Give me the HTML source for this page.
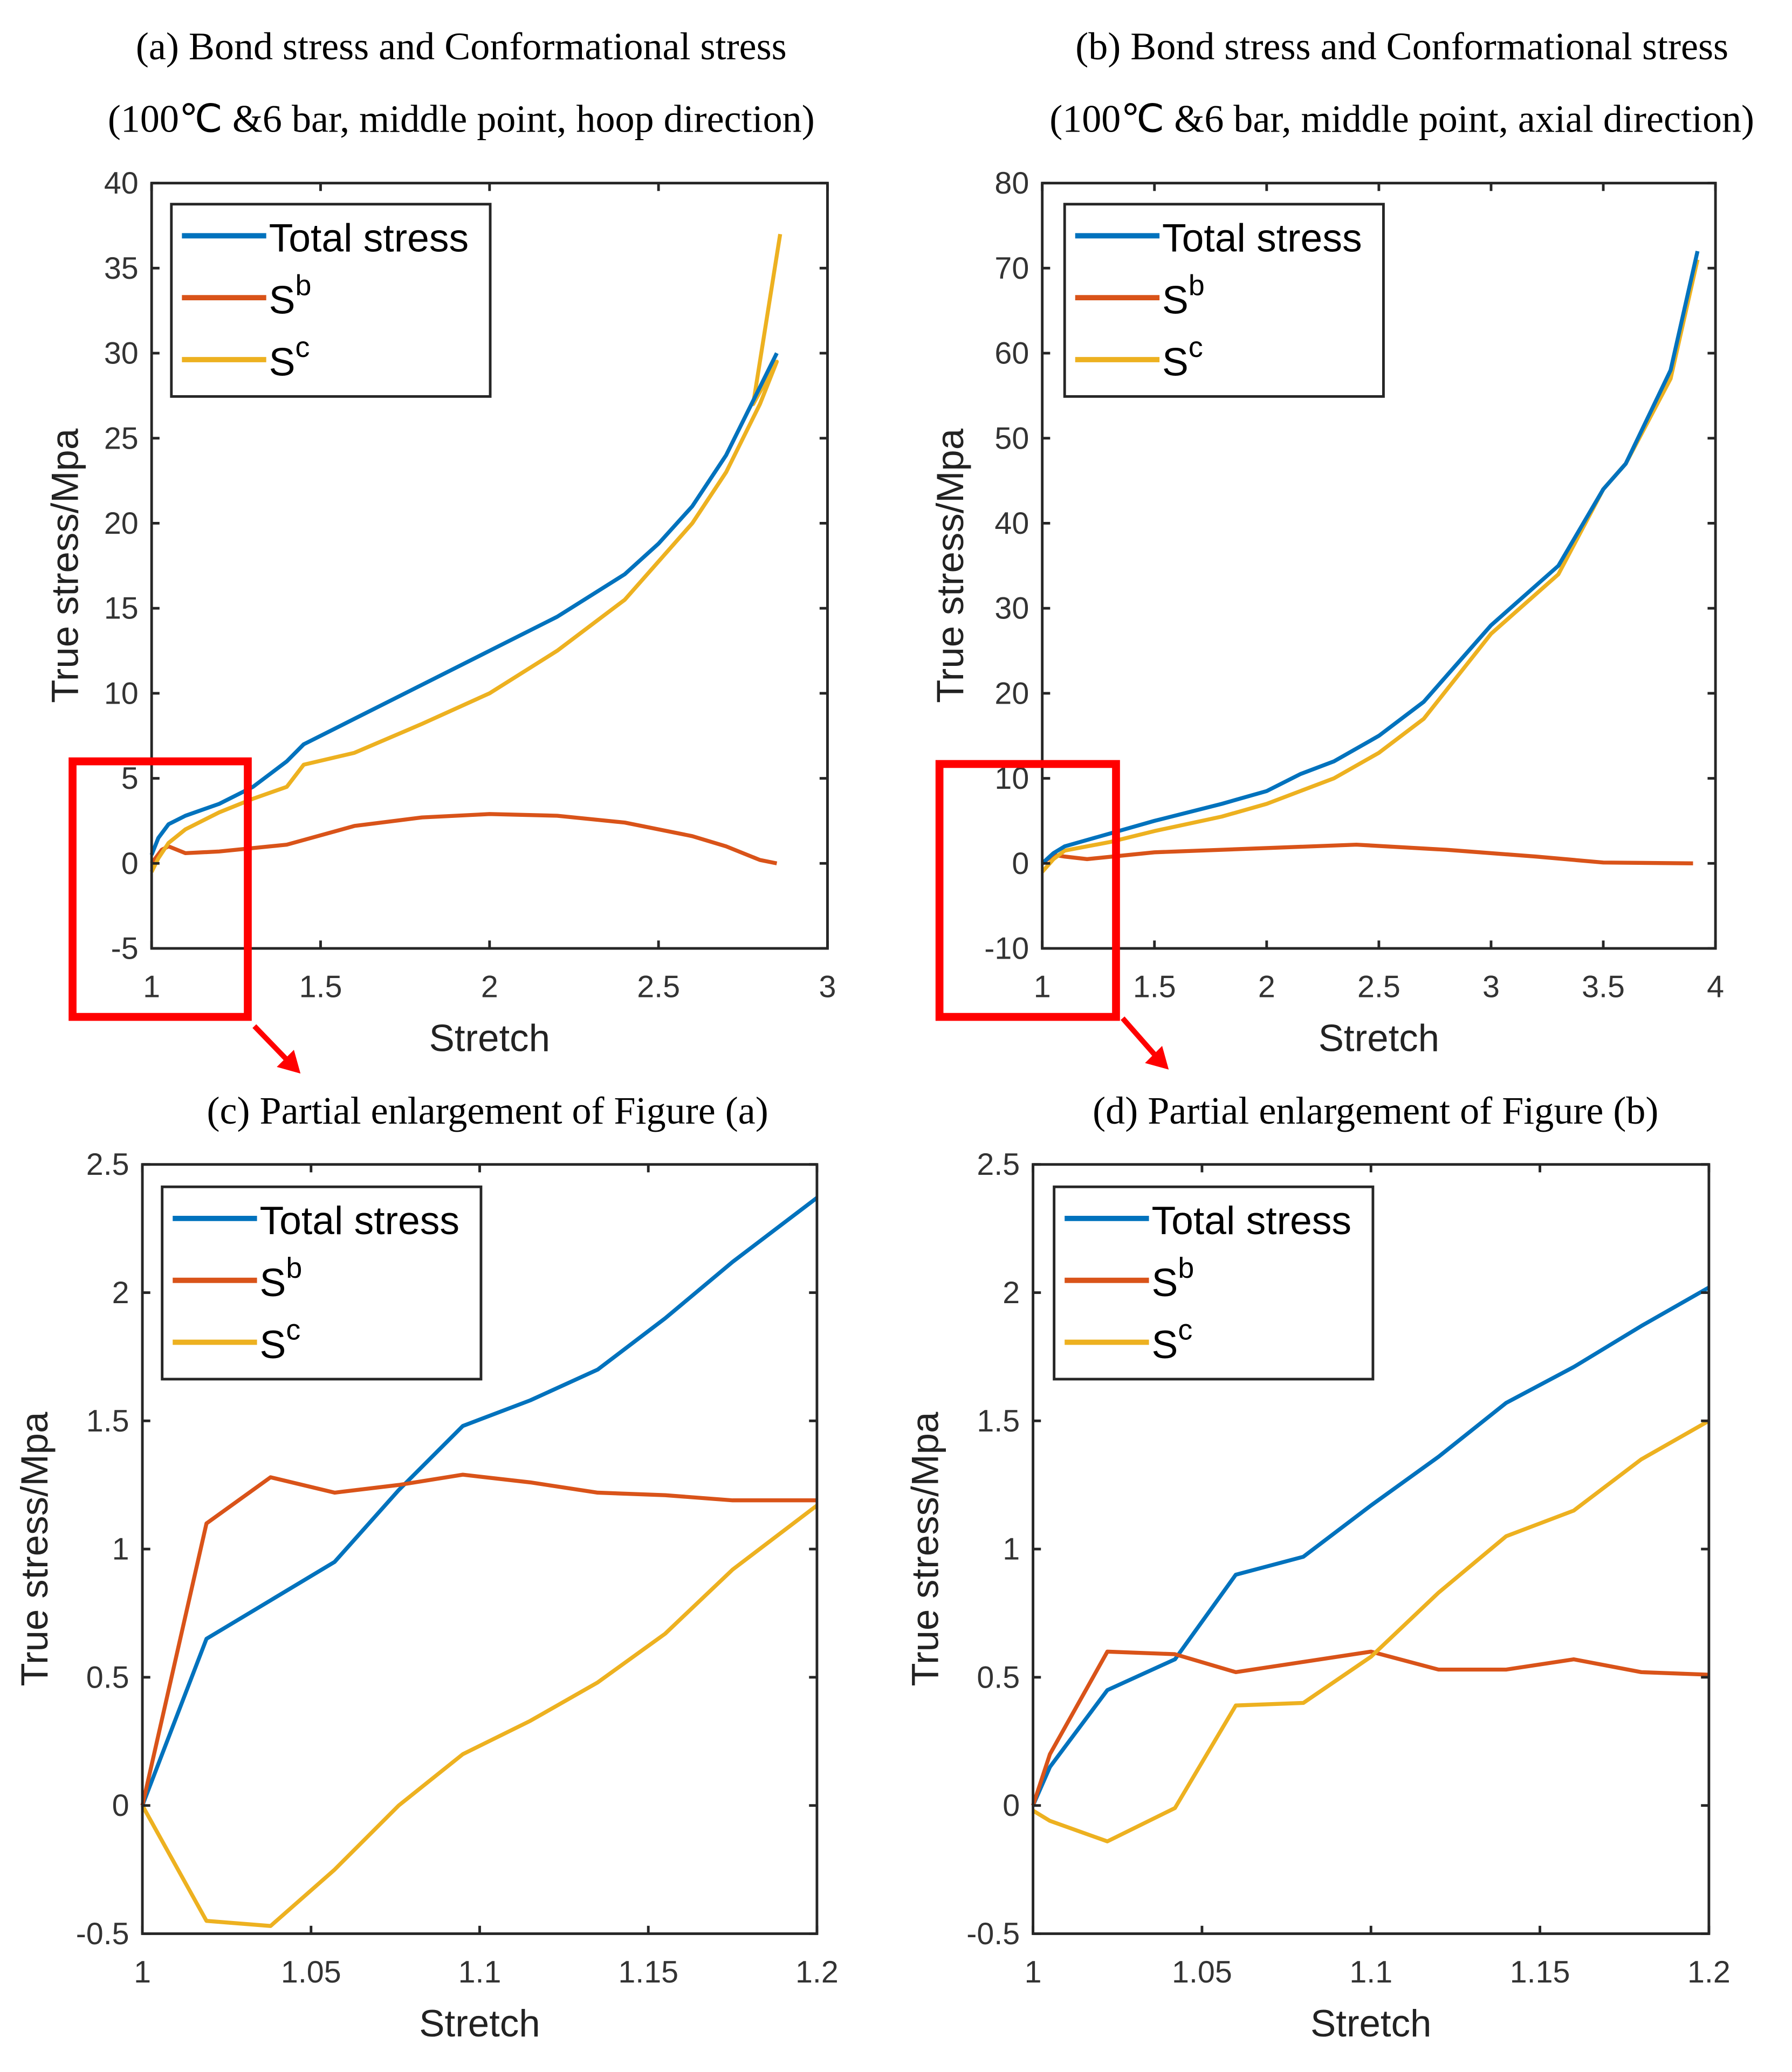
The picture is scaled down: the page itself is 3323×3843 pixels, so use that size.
<!DOCTYPE html>
<html><head><meta charset="utf-8"><style>
html,body{margin:0;padding:0;background:#fff}
svg{display:block}
.t{font-family:"Liberation Serif",serif;font-size:29.5px;fill:#000}
.tk{font-family:"Liberation Sans",sans-serif;font-size:23.5px;fill:#333}
.al{font-family:"Liberation Sans",sans-serif;font-size:29px;fill:#222}
.lg{font-family:"Liberation Sans",sans-serif;font-size:30px;fill:#000}
</style></head><body>
<svg id="fig" width="3323" height="3843" viewBox="0 0 1360 1573" xmlns="http://www.w3.org/2000/svg">
<g id="root"></g>
</svg>
<script>
// Panel (a)
const aTotalX=[1,1.02,1.05,1.1,1.2,1.3,1.4,1.45,1.6,1.8,2.0,2.2,2.4,2.5,2.6,2.7,2.8,2.85];
const aTotalY=[0.5,1.5,2.3,2.8,3.5,4.5,6,7,8.5,10.5,12.5,14.5,17,18.8,21,24,28,30];
const aSbX=[1,1.03,1.05,1.1,1.2,1.4,1.6,1.8,2.0,2.2,2.4,2.6,2.7,2.8,2.85];
const aSbY=[0,0.8,1.0,0.6,0.7,1.1,2.2,2.7,2.9,2.8,2.4,1.6,1.0,0.2,0];
const aScX=[1,1.02,1.05,1.1,1.2,1.3,1.4,1.45,1.6,1.8,2.0,2.2,2.4,2.6,2.7,2.8,2.85,2.78,2.86];
const aScY=[-0.5,0.3,1.2,2.0,3.0,3.8,4.5,5.8,6.5,8.2,10,12.5,15.5,20,23,27,29.5,27,37];
// Panel (b)
const bTotalX=[1,1.05,1.1,1.3,1.5,1.8,2.0,2.15,2.3,2.5,2.7,3.0,3.3,3.5,3.6,3.8,3.92];
const bTotalY=[0,1.2,2,3.5,5,7,8.5,10.5,12,15,19,28,35,44,47,58,72];
const bSbX=[1,1.05,1.1,1.2,1.5,2.0,2.4,2.8,3.2,3.5,3.9];
const bSbY=[0,1.0,0.8,0.5,1.3,1.8,2.2,1.6,0.8,0.1,0];
const bScX=[1,1.05,1.1,1.3,1.5,1.8,2.0,2.15,2.3,2.5,2.7,3.0,3.3,3.5,3.6,3.8,3.92];
const bScY=[-1,0.5,1.5,2.5,3.8,5.5,7,8.5,10,13,17,27,34,44,47,57,71];
// Panel (c)
const cX=[1,1.019,1.038,1.057,1.076,1.095,1.115,1.135,1.155,1.175,1.2];
const cTotal=[0,0.65,0.8,0.95,1.23,1.48,1.58,1.7,1.9,2.12,2.37];
const cSb=[0,1.1,1.28,1.22,1.25,1.29,1.26,1.22,1.21,1.19,1.19];
const cSc=[0,-0.45,-0.47,-0.25,0,0.2,0.33,0.48,0.67,0.92,1.17];
// Panel (d)
const dX=[1,1.005,1.022,1.042,1.06,1.08,1.1,1.12,1.14,1.16,1.18,1.2];
const dTotal=[0,0.15,0.45,0.57,0.9,0.97,1.17,1.36,1.57,1.71,1.87,2.02];
const dSb=[0,0.2,0.6,0.59,0.52,0.56,0.6,0.53,0.53,0.57,0.52,0.51];
const dSc=[-0.02,-0.06,-0.14,-0.01,0.39,0.4,0.58,0.83,1.05,1.15,1.35,1.5];
const xTicksAB=[[1,1.5,2,2.5,3],[1,1.5,2,2.5,3,3.5,4]];
const yTicksA=[-5,0,5,10,15,20,25,30,35,40];
const yTicksB=[-10,0,10,20,30,40,50,60,70,80];
const xTicksCD=[1,1.05,1.1,1.15,1.2];
const yTicksCD=[-0.5,0,0.5,1,1.5,2,2.5];

const NS="http://www.w3.org/2000/svg";
const root=document.getElementById('root');
function mk(tag,attrs,parent){const e=document.createElementNS(NS,tag);for(const k in attrs)e.setAttribute(k,attrs[k]);(parent||root).appendChild(e);return e;}
const COL={t:'#0072BD',b:'#D95319',c:'#EDB120'};

function panel(id,box,xr,yr,xt,yt,series,leg,yoff){
  const g=mk('g',{});
  
  
  const [L,T,R,B]=box;
  const sx=v=>L+(v-xr[0])/(xr[1]-xr[0])*(R-L);
  const sy=v=>B-(v-yr[0])/(yr[1]-yr[0])*(B-T);
  series.forEach(s=>{
    const p=mk('polyline',{points:s.x.map((v,i)=>sx(v)+','+sy(s.y[i])).join(' '),fill:'none',stroke:s.c,'stroke-width':3,'stroke-linejoin':'round'},g);
    
    
  });
  const fr=mk('rect',{x:L,y:T,width:R-L,height:B-T,fill:'none',stroke:'#262626','stroke-width':2},g);
  
  
  xt.forEach(v=>{const x=sx(v);
    mk('line',{x1:x,y1:B,x2:x,y2:B-6,stroke:'#262626','stroke-width':2},g);
    mk('line',{x1:x,y1:T,x2:x,y2:T+6,stroke:'#262626','stroke-width':2},g);
    const t=mk('text',{x:x,y:B+37,'text-anchor':'middle',class:'tk'},g);t.textContent=String(v);
    
    });
  yt.forEach(v=>{const y=sy(v);
    mk('line',{x1:L,y1:y,x2:L+6,y2:y,stroke:'#262626','stroke-width':2},g);
    mk('line',{x1:R,y1:y,x2:R-6,y2:y,stroke:'#262626','stroke-width':2},g);
    const t=mk('text',{x:L-10,y:y+8,'text-anchor':'end',class:'tk'},g);t.textContent=String(v);
    
    });
  const xl=mk('text',{x:(L+R)/2,y:B+78,'text-anchor':'middle',class:'al'},g);xl.textContent='Stretch';
  
  
  const yx=L-yoff, yy=(T+B)/2;
  const yl=mk('text',{x:yx,y:yy,'text-anchor':'middle',class:'al',transform:`rotate(-90 ${yx} ${yy})`},g);yl.textContent='True stress/Mpa';
  
  
  const [lx,ly]=leg;
  const lb=mk('rect',{x:lx,y:ly,width:242,height:146,fill:'#fff',stroke:'#262626','stroke-width':2},g);
  
  
  const items=[['t','Total stress',''],['b','S','b'],['c','S','c']];
  items.forEach((it,i)=>{const y=ly+24+i*47;
    mk('line',{x1:lx+8,y1:y,x2:lx+72,y2:y,stroke:COL[it[0]],'stroke-width':4},g);
    const t=mk('text',{x:lx+74,y:y+12,class:'lg'},g);t.textContent=it[1];
    
    
    if(it[2]){const s=mk('tspan',{dy:-14,'font-size':22},t);s.textContent=it[2];}
  });
}
panel('a',[115,139,628,720],[1,3],[-5,40],xTicksAB[0],yTicksA,
 [{x:aSbX,y:aSbY,c:COL.b,n:'sb'},{x:aScX,y:aScY,c:COL.c,n:'sc'},{x:aTotalX,y:aTotalY,c:COL.t,n:'total'}],[130,155],56);
panel('b',[791,139,1302,720],[1,4],[-10,80],xTicksAB[1],yTicksB,
 [{x:bSbX,y:bSbY,c:COL.b,n:'sb'},{x:bScX,y:bScY,c:COL.c,n:'sc'},{x:bTotalX,y:bTotalY,c:COL.t,n:'total'}],[808,155],60);
panel('c',[108,884,620,1468],[1,1.2],[-0.5,2.5],xTicksCD,yTicksCD,
 [{x:cX,y:cTotal,c:COL.t,n:'total'},{x:cX,y:cSb,c:COL.b,n:'sb'},{x:cX,y:cSc,c:COL.c,n:'sc'}],[123,901],72);
panel('d',[784,884,1297,1468],[1,1.2],[-0.5,2.5],xTicksCD,yTicksCD,
 [{x:dX,y:dTotal,c:COL.t,n:'total'},{x:dX,y:dSb,c:COL.b,n:'sb'},{x:dX,y:dSc,c:COL.c,n:'sc'}],[800,901],72);

function txt(x,y,s,name){const t=mk('text',{x:x,y:y,'text-anchor':'middle',class:'t'});t.textContent=s;
 
 }
txt(350,45,'(a) Bond stress and Conformational stress','title-a');
txt(350,100,'(100\u2103 &6 bar, middle point, hoop direction)','subtitle-a');
txt(1064,45,'(b) Bond stress and Conformational stress','title-b');
txt(1064,100,'(100\u2103 &6 bar, middle point, axial direction)','subtitle-b');
txt(370,853,'(c) Partial enlargement of Figure (a)','title-c');
txt(1044,853,'(d) Partial enlargement of Figure (b)','title-d');

[[55,578,188,772,193,779,228,815],[713,580,847,772,852,773,887,812]].forEach(r=>{
  const b=mk('rect',{x:r[0],y:r[1],width:r[2]-r[0],height:r[3]-r[1],fill:'none',stroke:'#f00','stroke-width':6});
  
  
  const l=mk('line',{x1:r[4],y1:r[5],x2:r[6]-6,y2:r[7]-6,stroke:'#f00','stroke-width':4});
  
  
  const x=r[6],y=r[7];
  mk('polygon',{points:`${x},${y} ${x-18},${y-5} ${x-5},${y-18}`,fill:'#f00'});
});
</script>
</body></html>
